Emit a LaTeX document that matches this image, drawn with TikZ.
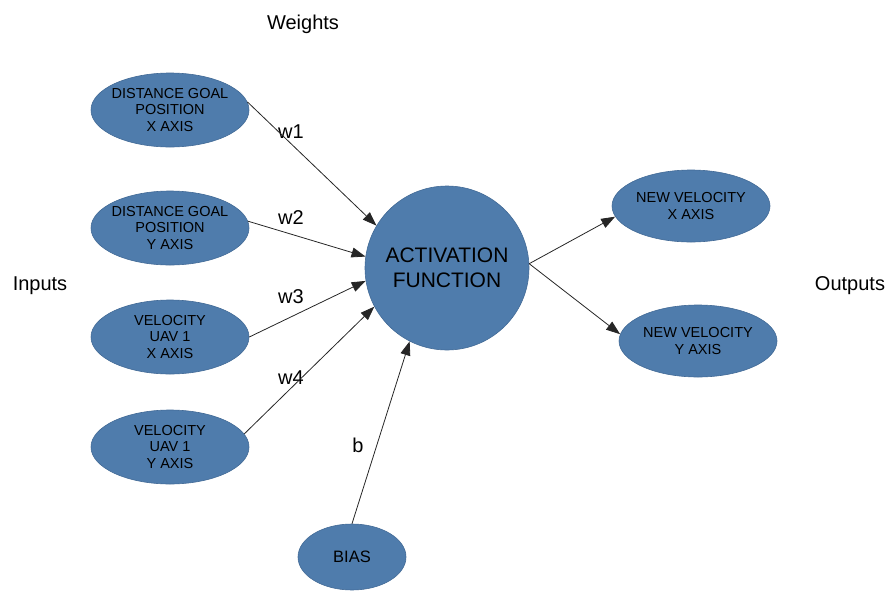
\documentclass[tikz,border=0pt]{standalone}
\usepackage{fontspec}
\setmainfont{Liberation Sans}
\usetikzlibrary{shapes.geometric,arrows.meta}
\definecolor{nodeblue}{RGB}{79,124,172}
\definecolor{nodeedge}{RGB}{66,106,150}
\tikzset{
  % negative horizontal padding keeps wide text from growing the ellipse
  inputnode/.style={ellipse, fill=nodeblue, draw=nodeedge, line width=0.6pt,
    minimum width=158pt, minimum height=74pt, inner xsep=-14pt, inner ysep=0pt,
    align=center, font=\fontsize{14.5}{16.5}\selectfont},
  outputnode/.style={inputnode, minimum height=72pt},
  biasnode/.style={inputnode, minimum width=108pt, minimum height=66pt,
    font=\fontsize{16.5}{19}\selectfont},
  actnode/.style={circle, fill=nodeblue, draw=nodeedge, line width=0.6pt,
    minimum size=164pt, inner sep=0pt, align=center,
    font=\fontsize{21}{25}\selectfont},
  label/.style={font=\fontsize{20}{24}\selectfont, inner sep=0pt},
  link/.style={draw=black!85, line width=0.8pt,
    -{Triangle[length=14pt,width=10pt]}}
}
\begin{document}
\begin{tikzpicture}[x=1pt,y=-1pt]
\useasboundingbox (0,0) rectangle (887,590);

% inputs
\node[inputnode] (d1) at (170,110) {DISTANCE GOAL\\POSITION\\X AXIS};
\node[inputnode] (d2) at (170,228) {DISTANCE GOAL\\POSITION\\Y AXIS};
\node[inputnode] (v1) at (170,337) {VELOCITY\\UAV 1\\X AXIS};
\node[inputnode] (v2) at (170,447) {VELOCITY\\UAV 1\\Y AXIS};

% neuron
\node[actnode] (act) at (447,268) {ACTIVATION\\FUNCTION};

% bias
\node[biasnode] (bias) at (352,557) {BIAS};

% outputs
\node[outputnode] (nx) at (691,206) {NEW VELOCITY\\X AXIS};
\node[outputnode] (ny) at (698,341) {NEW VELOCITY\\Y AXIS};

% captions
\node[label] (weights) at (303,24) {Weights};
\node[label] (inputs) at (40,286) {Inputs};
\node[label] (outputs) at (850,286) {Outputs};
\node[label] (w1) at (291,132) {w1};
\node[label] (w2) at (291,218) {w2};
\node[label] (w3) at (291,297) {w3};
\node[label] (w4) at (291,378) {w4};
\node[label] (b) at (358,445) {b};

% weighted connections
\draw[link] (d1.6) -- (act.149);
\draw[link] (d2.5) -- (act.172);
\draw[link] (v1.east) -- (act.189);
\draw[link] (v2.10) -- (act.208);
\draw[link] (bias.north) -- (act.243);
\draw[link] (act.3) -- (nx.188);
\draw[link] (act.3) -- (ny.175);
\end{tikzpicture}
\end{document}
